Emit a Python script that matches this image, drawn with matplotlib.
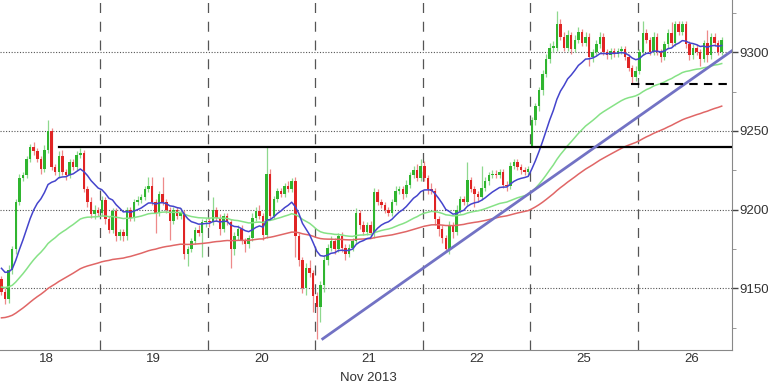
import numpy as np
import matplotlib.pyplot as plt
from matplotlib.ticker import MultipleLocator
from matplotlib.transforms import blended_transform_factory

plt.rcParams['font.family'] = ['Liberation Sans', 'DejaVu Sans']

# half-hour bars, 30 slots per trading day
days = ['18', '19', '20', '21', '22', '25', '26']
bars_per_day = 30
first_slot = 2          # first bar of the 18th inside the window
day_open = [9156, 9198, 9193, 9145, 9228, 9240, 9288]

c18 = [9148, 9143, 9162, 9175, 9205, 9220, 9222, 9232, 9240, 9237, 9232, 9226, 9238, 9250,
       9227, 9224, 9234, 9224, 9222, 9230, 9227, 9235, 9236, 9213, 9205, 9197, 9200, 9198]
c19 = [9206, 9194, 9187, 9199, 9183, 9186, 9183, 9200, 9195, 9205, 9206, 9208, 9213, 9215, 9205,
       9198, 9210, 9205, 9200, 9193, 9200, 9196, 9198, 9172, 9175, 9180, 9187, 9185, 9192, 9193]
c20 = [9192, 9200, 9195, 9188, 9196, 9192, 9175, 9183, 9188, 9180, 9178, 9182, 9195, 9199, 9196,
       9184, 9223, 9196, 9207, 9212, 9210, 9215, 9213, 9218, 9183, 9168, 9150, 9163, 9160, 9145]
c21 = [9138, 9152, 9168, 9176, 9180, 9175, 9183, 9176, 9172, 9176, 9180, 9198, 9190, 9186, 9190,
       9185, 9211, 9205, 9203, 9200, 9198, 9205, 9212, 9213, 9210, 9216, 9222, 9225, 9220, 9228]
c22 = [9220, 9213, 9212, 9194, 9188, 9182, 9175, 9190, 9186, 9200, 9207, 9205, 9219, 9213, 9210,
       9208, 9214, 9218, 9222, 9223, 9222, 9224, 9216, 9215, 9228, 9230, 9227, 9225, 9224, 9226]
c25 = [9257, 9266, 9276, 9286, 9296, 9303, 9303, 9318, 9310, 9303, 9311, 9302, 9308, 9313, 9306,
       9310, 9297, 9300, 9305, 9310, 9300, 9298, 9301, 9299, 9301, 9302, 9297, 9290, 9284, 9288]
c26 = [9300, 9312, 9308, 9300, 9310, 9300, 9297, 9305, 9312, 9306, 9318, 9313, 9318, 9305, 9298,
       9303, 9300, 9296, 9306, 9298, 9310, 9306, 9300, 9308]

# wick length above / below the body
up18 = [2, 2, 3, 2, 2, 3, 2, 2, 2, 3, 2, 2, 3, 7, 2, 2, 3, 4, 2, 2, 2, 2, 3, 2, 2, 3, 3, 2]
dn18 = [2, 3, 2, 3, 3, 2, 2, 2, 2, 2, 2, 3, 2, 2, 2, 2, 4, 2, 3, 2, 2, 2, 2, 2, 3, 2, 3, 2]
up19 = [3, 2, 2, 2, 2, 2, 2, 2, 2, 2, 3, 2, 2, 6, 6, 2, 2, 11, 2, 2, 2, 2, 3, 2, 2, 2, 2, 3, 2, 2]
dn19 = [2, 3, 2, 2, 3, 2, 3, 2, 2, 2, 2, 2, 2, 2, 2, 13, 2, 2, 2, 12, 2, 2, 2, 3, 8, 2, 2, 2, 15, 3]
up20 = [2, 8, 2, 2, 2, 2, 2, 3, 2, 2, 2, 2, 3, 3, 4, 2, 17, 3, 2, 2, 2, 2, 3, 2, 3, 2, 2, 3, 5, 2]
dn20 = [3, 2, 2, 4, 2, 2, 12, 4, 2, 2, 5, 2, 2, 2, 2, 3, 2, 2, 2, 2, 2, 2, 2, 2, 13, 4, 3, 4, 3, 10]
up21 = [3, 3, 3, 2, 3, 2, 2, 3, 2, 2, 2, 3, 2, 3, 2, 3, 3, 2, 2, 2, 2, 2, 3, 2, 2, 3, 2, 3, 4, 4]
dn21 = [20, 9, 4, 3, 2, 3, 2, 3, 4, 2, 2, 2, 2, 2, 2, 2, 3, 2, 2, 2, 2, 2, 2, 2, 3, 2, 2, 2, 2, 2]
up22 = [3, 2, 4, 2, 2, 2, 2, 3, 2, 3, 2, 2, 11, 2, 2, 2, 14, 3, 2, 2, 2, 2, 2, 2, 2, 2, 2, 2, 2, 2]
dn22 = [2, 3, 2, 4, 5, 3, 2, 3, 4, 2, 2, 2, 2, 2, 8, 3, 2, 2, 2, 2, 2, 2, 2, 3, 2, 2, 2, 2, 2, 2]
up25 = [2, 2, 2, 3, 3, 3, 4, 8, 3, 3, 3, 2, 3, 3, 2, 3, 2, 2, 3, 3, 2, 2, 2, 2, 2, 2, 2, 2, 2, 3]
dn25 = [0, 3, 3, 3, 2, 3, 3, 2, 2, 2, 2, 3, 2, 2, 2, 2, 6, 3, 2, 2, 2, 2, 2, 2, 2, 2, 2, 2, 4, 2]
up26 = [2, 8, 3, 2, 3, 2, 2, 2, 3, 7, 2, 2, 2, 2, 2, 2, 2, 2, 2, 8, 2, 2, 2, 2]
dn26 = [2, 2, 2, 2, 2, 2, 3, 2, 2, 2, 2, 2, 2, 2, 3, 2, 2, 5, 2, 4, 2, 2, 2, 2]

# moving averages: smoothing factor and value at the left edge
ma_fast = (0.13, 9165)
ma_mid = (0.04, 9151)
ma_slow = (0.019, 9131)

# drawn lines (day units, price)
res_x, res_y = [0.62, 6.88], [9240, 9240]
trend_x, trend_y = [3.072, 6.88], [9118, 9301]
sup_x, sup_y = [5.937, 6.88], [9280, 9280]

closes_by_day = [c18, c19, c20, c21, c22, c25, c26]
ups = [up18, up19, up20, up21, up22, up25, up26]
dns = [dn18, dn19, dn20, dn21, dn22, dn25, dn26]

x, o, h, l, c = [], [], [], [], []
for d, cl in enumerate(closes_by_day):
    start = first_slot if d == 0 else 0
    for j, v in enumerate(cl):
        op = day_open[d] if j == 0 else cl[j - 1]
        x.append(d + (start + j + 0.5) / bars_per_day)
        o.append(op)
        c.append(v)
        h.append(max(op, v) + ups[d][j])
        l.append(min(op, v) - dns[d][j])
x, o, h, l, c = map(np.array, (x, o, h, l, c))


def ema(vals, alpha, seed):
    out = []
    m = seed
    for v in vals:
        m = m + alpha * (v - m)
        out.append(m)
    return np.array(out)


fig = plt.figure(figsize=(7.68, 3.84), dpi=100)
ax = fig.add_axes([0, 34 / 384, 732 / 768, 350 / 384])

xmin, xmax = 7.5 / 107.5, 739.5 / 107.5
ax.set_xlim(xmin, xmax)
ax.set_ylim(9110.9, 9333.2)

ax.grid(axis='y', which='major', ls=(0, (1, 1.5)), color='#555555', lw=0.8)
for d in range(1, len(days)):
    ax.axvline(d, color='#555555', lw=0.9, ls=(0, (8, 7)), zorder=1)

bull = c >= o
wick_col = np.where(bull, '#8ed88e', '#ee8a8a')
body_col = np.where(bull, '#2fb52f', '#e02424')
ax.vlines(x, l, h, colors=wick_col, lw=0.9, zorder=2)
hgt = np.where(np.abs(c - o) < 0.8, 0.8, c - o)
ax.bar(x, hgt, bottom=o, width=0.72 / bars_per_day, color=body_col, lw=0, zorder=3)

ax.plot(x, ema(c, *ma_slow), color='#e06666', lw=1.1, zorder=4)
ax.plot(x, ema(c, *ma_mid), color='#86e286', lw=1.1, zorder=4)
ax.plot(x, ema(c, *ma_fast), color='#4444cc', lw=1.1, zorder=5)

ax.plot(res_x, res_y, color='black', lw=1.6, zorder=6)
ax.plot(trend_x, trend_y, color='#7272c4', lw=2.0, zorder=6)
ax.plot(sup_x, sup_y, color='black', lw=1.5, ls=(0, (4, 3)), zorder=6)

ax.yaxis.tick_right()
ax.yaxis.set_major_locator(MultipleLocator(50))
ax.yaxis.set_minor_locator(MultipleLocator(25))
ax.tick_params(axis='y', which='major', length=4, width=1, color='#444444',
               labelsize=9.5, labelcolor='#333333', pad=1)
ax.tick_params(axis='y', which='minor', length=3, color='#888888')

ax.set_xticks([d + 0.5 for d in range(len(days))])
ax.set_xticklabels(days)
ax.tick_params(axis='x', length=0, labelsize=9.5, labelcolor='#333333', pad=2)
trans = blended_transform_factory(ax.transData, fig.transFigure)
ax.text(3.5, 0.0, 'Nov 2013', transform=trans, ha='center', va='bottom',
        fontsize=9.5, color='#333333')

for s in ('left', 'top'):
    ax.spines[s].set_visible(False)
for s in ('right', 'bottom'):
    ax.spines[s].set_color('#888888')

fig.savefig('out.png', dpi=100)
